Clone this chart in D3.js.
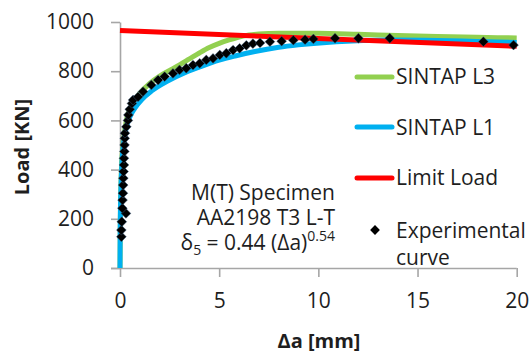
<!DOCTYPE html>
<html>
<head>
<meta charset="utf-8">
<script src="https://cdn.jsdelivr.net/npm/d3@7/dist/d3.min.js"></script>
<style>
  html, body { margin: 0; padding: 0; background: #fff; }
  svg { display: block; }
  text { font-family: "Open Sans", "Liberation Sans", sans-serif; fill: #1e1e1e; }
</style>
</head>
<body>
<svg id="chart" width="530" height="354"></svg>
<script>
// Crack extension Δa [mm] vs load [kN]
const xTicks = [0, 5, 10, 15, 20];
const yTicks = [0, 200, 400, 600, 800, 1000];

// SINTAP level 3 prediction
const l3X = [0, 0.02, 0.1, 0.3, 0.6, 1, 1.5, 2, 2.5, 3, 3.5, 4, 4.5, 5, 5.5, 6, 6.5, 7, 8, 10, 12, 14, 16, 18, 20];
const l3Y = [0, 220, 450, 590, 665, 710, 750, 780, 803, 826, 850, 874, 896, 913, 927, 939, 947, 951, 954, 954, 950, 945, 941, 938, 935];

// SINTAP level 1 prediction
const l1X = [0, 0.01, 0.05, 0.1, 0.2, 0.35, 0.5, 0.75, 1.1, 1.6, 2.4, 3.3, 4.1, 5, 5.8, 6.8, 8, 9, 10.9, 13.6, 16, 18, 20];
const l1Y = [0, 150, 330, 430, 520, 580, 615, 650, 685, 720, 760, 795, 820, 845, 862, 880, 897, 907, 920, 927, 925, 921, 917];

// Limit load
const limX = [0, 20];
const limY = [965, 901];

// Experimental curve
const expX = [0.07, 0.07, 0.09, 0.3, 0.12, 0.13, 0.15, 0.16, 0.17, 0.18, 0.2, 0.2, 0.22, 0.23, 0.24, 0.25, 0.32, 0.4, 0.42, 0.49, 0.6, 0.66, 0.91, 1.16, 1.58, 1.92, 2.25, 2.67, 3.0, 3.34, 3.68, 4.02, 4.35, 4.69, 5.03, 5.36, 5.7, 6.03, 6.37, 6.7, 7.06, 7.56, 8.15, 8.74, 9.33, 9.75, 10.84, 12.02, 13.6, 18.32, 19.84];
const expY = [127, 154, 188, 222, 243, 276, 304, 337, 365, 392, 419, 446, 474, 500, 527, 548, 574, 600, 622, 645, 669, 683, 696, 717, 744, 764, 778, 791, 805, 812, 825, 832, 846, 852, 866, 873, 886, 893, 905, 912, 915, 920, 922, 926, 928, 931, 934, 934, 934, 920, 906];

const legendNames = ["SINTAP L3", "SINTAP L1", "Limit Load"];
const seriesColors = ["#92d050", "#00b0f0", "#ff0000"];
const noteLines = ["M(T) Specimen", "AA2198 T3 L-T"];

const svg = d3.select("#chart");
const x = d3.scaleLinear().domain([0, 20]).range([120, 516.7]);
const y = d3.scaleLinear().domain([0, 1000]).range([268, 22]);
const axisColor = "#a6a6a6";

// axes
const yAxis = svg.append("g").attr("transform", `translate(${x(0)},0)`)
  .call(d3.axisLeft(y).tickValues(yTicks).tickFormat(d3.format("d"))
    .tickSize(9).tickPadding(17).tickSizeOuter(0));
const xAxis = svg.append("g").attr("transform", `translate(0,${y(0)})`)
  .call(d3.axisBottom(x).tickValues(xTicks).tickFormat(d3.format("d"))
    .tickSize(9).tickPadding(16).tickSizeOuter(0));
[yAxis, xAxis].forEach(g => {
  g.selectAll("path").attr("stroke", axisColor).attr("stroke-width", 1.6);
  g.selectAll("line").attr("stroke", axisColor).attr("stroke-width", 1.6);
  g.selectAll("text").style("font-size", "21px").attr("fill", "#1e1e1e");
});
xAxis.select("path").attr("d", `M${x(0) - 9},0.5H${x(20)}`);

// axis titles
svg.append("text").attr("transform", `translate(21,147) rotate(-90)`)
  .attr("text-anchor", "middle").attr("dominant-baseline", "central")
  .style("font-size", "20px").style("font-weight", "bold").text("Load [KN]");
svg.append("text").attr("x", 319).attr("y", 348).attr("text-anchor", "middle")
  .style("font-size", "20px").style("font-weight", "bold").text("Δa [mm]");

// lines
const line = d3.line().x(d => x(d[0])).y(d => y(d[1])).curve(d3.curveMonotoneX);
const series = [d3.zip(l3X, l3Y), d3.zip(l1X, l1Y), d3.zip(limX, limY)];
series.forEach((s, i) => {
  svg.append("path").datum(s).attr("d", line)
    .attr("fill", "none").attr("stroke", seriesColors[i])
    .attr("stroke-width", 5).attr("stroke-linejoin", "round");
});

// experimental markers
const diamond = d3.symbol().type(d3.symbolSquare).size(48);
svg.append("g").selectAll("path").data(d3.zip(expX, expY)).join("path")
  .attr("d", diamond)
  .attr("transform", d => `translate(${x(d[0])},${y(d[1])}) rotate(45)`)
  .attr("fill", "#000").attr("stroke", "#3a5f86").attr("stroke-width", 0.7).attr("stroke-opacity", 0.6);

// legend
const legY = [77, 127, 178];
const legTextY = [84, 135, 185];
legendNames.forEach((name, i) => {
  svg.append("line").attr("x1", 357).attr("x2", 392).attr("y1", legY[i]).attr("y2", legY[i])
    .attr("stroke", seriesColors[i]).attr("stroke-width", 5).attr("stroke-linecap", "round");
  svg.append("text").attr("x", 396).attr("y", legTextY[i]).style("font-size", "21px").text(name);
});
svg.append("path").attr("d", diamond)
  .attr("transform", "translate(375,230) rotate(45)").attr("fill", "#000");
svg.append("text").attr("x", 396).attr("y", 238).style("font-size", "21px").text("Experimental");
svg.append("text").attr("x", 396).attr("y", 265).style("font-size", "21px").text("curve");

// specimen note
noteLines.forEach((t, i) => {
  svg.append("text").attr("x", 335).attr("y", 200 + i * 25).attr("text-anchor", "end")
    .style("font-size", "21px").text(t);
});
const eq = svg.append("text").attr("x", 335).attr("y", 250).attr("text-anchor", "end").style("font-size", "21px");
eq.append("tspan").text("δ");
eq.append("tspan").attr("dy", 5).style("font-size", "14px").text("5");
eq.append("tspan").attr("dy", -5).text(" = 0.44 (Δa)");
eq.append("tspan").attr("dy", -9).style("font-size", "14px").text("0.54");
</script>
</body>
</html>
